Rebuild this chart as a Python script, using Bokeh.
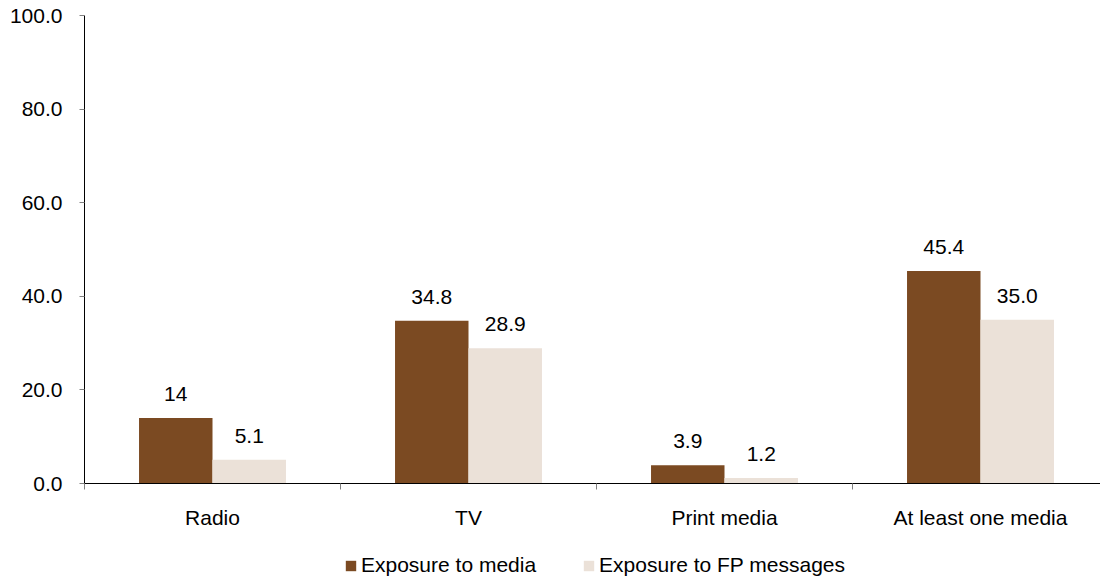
from bokeh.plotting import figure
from bokeh.layouts import column
from bokeh.models import (ColumnDataSource, Range1d, FixedTicker, PrintfTickFormatter,
                          LabelSet, Legend, LegendItem)
from bokeh.core.properties import value
from bokeh.embed import file_html
from bokeh.resources import INLINE

# Media exposure by channel (%)
categories = ["Radio", "TV", "Print media", "At least one media"]
exposure_media = [14, 34.8, 3.9, 45.4]
exposure_fp = [5.1, 28.9, 1.2, 35.0]
media_labels = ["14", "34.8", "3.9", "45.4"]
fp_labels = ["5.1", "28.9", "1.2", "35.0"]
series_names = ["Exposure to media", "Exposure to FP messages"]
y_ticks = [0, 20, 40, 60, 80, 100]

BROWN = "#7B4A22"
BEIGE = "#EBE1D8"
FONT = "Liberation Sans"
FS = "21px"

bar_w = 0.287
centers = [i + 0.5 for i in range(len(categories))]

src_media = ColumnDataSource(dict(x=[c - bar_w / 2 for c in centers],
                                  top=exposure_media, label=media_labels))
src_fp = ColumnDataSource(dict(x=[c + bar_w / 2 for c in centers],
                               top=exposure_fp, label=fp_labels))

p = figure(width=1100, height=540, output_backend="svg", toolbar_location=None,
           x_range=Range1d(0, 1016 / 256), y_range=Range1d(0, 100),
           min_border_left=84, min_border_right=0, min_border_top=15,
           min_border_bottom=57)
p.outline_line_color = None
p.xgrid.grid_line_color = None
p.ygrid.grid_line_color = None

p.vbar(x="x", top="top", width=bar_w, source=src_media,
       fill_color=BROWN, line_color=None)
p.vbar(x="x", top="top", width=bar_w, source=src_fp,
       fill_color=BEIGE, line_color=None)

for src in (src_media, src_fp):
    p.add_layout(LabelSet(x="x", y="top", text="label", source=src,
                          text_align="center", text_baseline="alphabetic",
                          y_offset=17, text_font=value(FONT),
                          text_font_size=value(FS), text_color="black"))

# x axis: labels at category centres, tick marks at category boundaries
xa = p.xaxis[0]
xa.ticker = FixedTicker(ticks=centers, minor_ticks=list(range(len(categories) + 1)))
xa.major_label_overrides = {c: name for c, name in zip(centers, categories)}
xa.major_tick_line_color = None
xa.major_tick_out = 0
xa.major_tick_in = 0
xa.minor_tick_out = 6
xa.minor_tick_in = 0
xa.minor_tick_line_color = "#808080"
xa.axis_line_color = "black"
xa.major_label_standoff = 16
xa.major_label_text_font = FONT
xa.major_label_text_font_size = FS
xa.major_label_text_color = "black"

ya = p.yaxis[0]
ya.ticker = FixedTicker(ticks=y_ticks)
ya.formatter = PrintfTickFormatter(format="%.1f")
ya.major_tick_line_color = "#808080"
ya.major_tick_out = 5
ya.major_tick_in = 0
ya.minor_tick_line_color = None
ya.axis_line_color = "black"
ya.major_label_standoff = 17
ya.major_label_text_font = FONT
ya.major_label_text_font_size = FS
ya.major_label_text_color = "black"

# legend strip underneath the chart; its keys reuse the series sources
lg = figure(width=1100, height=41, output_backend="svg", toolbar_location=None,
            x_range=Range1d(0, 1), y_range=Range1d(0, 1),
            min_border=0, x_axis_location=None, y_axis_location=None)
lg.outline_line_color = None
lg.xgrid.grid_line_color = None
lg.ygrid.grid_line_color = None
k1 = lg.vbar(x="x", top="top", width=bar_w, source=src_media,
             fill_color=BROWN, line_color=None, visible=False)
k2 = lg.vbar(x="x", top="top", width=bar_w, source=src_fp,
             fill_color=BEIGE, line_color=None, visible=False)

legend = Legend(items=[LegendItem(label=series_names[0], renderers=[k1]),
                       LegendItem(label=series_names[1], renderers=[k2])],
                orientation="horizontal", location=(260, 4),
                glyph_width=13, glyph_height=13, label_standoff=4, spacing=46,
                padding=0, margin=0, border_line_color=None,
                background_fill_alpha=0, inactive_fill_alpha=0,
                label_text_font=FONT, label_text_font_size=FS,
                label_text_color="black")
lg.add_layout(legend, "center")

open("out.html", "w").write(file_html(column(p, lg, spacing=0), INLINE))
